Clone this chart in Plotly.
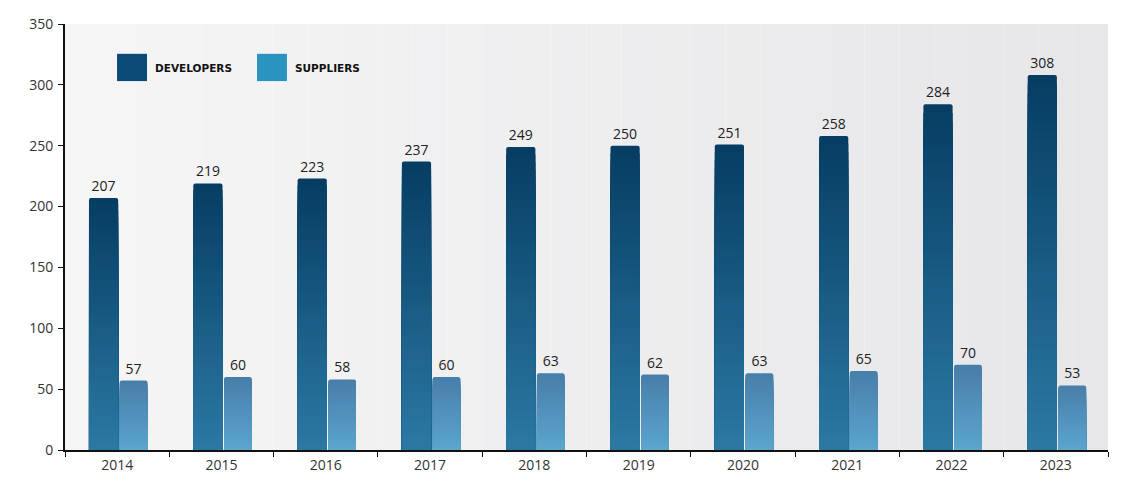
import plotly.graph_objects as go

years = ["2014", "2015", "2016", "2017", "2018", "2019", "2020", "2021", "2022", "2023"]
developers = [207, 219, 223, 237, 249, 250, 251, 258, 284, 308]
suppliers = [57, 60, 58, 60, 63, 62, 63, 65, 70, 53]

y_ticks = [0, 50, 100, 150, 200, 250, 300, 350]

DEV_TOP, DEV_BOTTOM = (6, 61, 99), (44, 122, 165)
SUP_TOP, SUP_BOTTOM = (72, 126, 170), (92, 166, 206)
LEG_DEV, LEG_SUP = "#0b4a75", "#2a93c0"


def mix(c1, c2, t):
    return "rgb(%d,%d,%d)" % tuple(round(a + (b - a) * t) for a, b in zip(c1, c2))


N = 40
fig = go.Figure()


def add_gradient_bars(values, top, bottom, offset, width, name):
    for k in range(N):
        f = 1 - k / N
        first = k == 0
        fig.add_trace(go.Bar(
            x=years,
            y=[v * f for v in values],
            offset=offset,
            width=width,
            name=name,
            showlegend=False,
            hoverinfo="skip" if not first else None,
            marker=dict(
                color=mix(bottom, top, f),
                line=dict(width=0),
                cornerradius=2 if first else 0,
            ),
            text=[str(v) for v in values] if first else None,
            textposition="outside" if first else "none",
            textfont=dict(family="Open Sans", size=14, color="#222"),
            cliponaxis=False,
        ))


add_gradient_bars(developers, DEV_TOP, DEV_BOTTOM, -0.27, 0.28, "DEVELOPERS")
add_gradient_bars(suppliers, SUP_TOP, SUP_BOTTOM, 0.025, 0.265, "SUPPLIERS")

# background horizontal gradient
shapes = []
M = 30
for i in range(M):
    t = i / (M - 1)
    shapes.append(dict(
        type="rect", xref="paper", yref="paper",
        x0=i / M, x1=(i + 1) / M, y0=0, y1=1,
        fillcolor=mix((245, 245, 246), (231, 231, 233), t),
        line=dict(width=0), layer="below",
    ))

# legend swatches
shapes.append(dict(type="rect", xref="paper", yref="paper",
                   x0=0.0499, x1=0.0786, y0=0.866, y1=0.930,
                   fillcolor=LEG_DEV, line=dict(width=0)))
shapes.append(dict(type="rect", xref="paper", yref="paper",
                   x0=0.1841, x1=0.2128, y0=0.866, y1=0.930,
                   fillcolor=LEG_SUP, line=dict(width=0)))

annotations = [
    dict(text="<b>DEVELOPERS</b>", xref="paper", yref="paper", x=0.0844, y=0.8975,
         xanchor="left", yanchor="middle", showarrow=False,
         font=dict(family="DejaVu Sans", size=10.5, color="#111")),
    dict(text="<b>SUPPLIERS</b>", xref="paper", yref="paper", x=0.2186, y=0.8975,
         xanchor="left", yanchor="middle", showarrow=False,
         font=dict(family="DejaVu Sans", size=10.5, color="#111")),
]

fig.update_layout(
    width=1114, height=466,
    margin=dict(l=57, r=14, t=16, b=24, autoexpand=False),
    paper_bgcolor="white",
    plot_bgcolor="rgba(0,0,0,0)",
    barmode="overlay",
    showlegend=False,
    shapes=shapes,
    annotations=annotations,
    font=dict(family="Open Sans", size=14, color="#333"),
)
fig.update_xaxes(
    type="category", tickson="boundaries", ticks="outside", ticklen=5,
    tickcolor="#111", showline=True, linecolor="#111", linewidth=2,
    showgrid=False, automargin=False, ticklabelstandoff=1,
    tickfont=dict(size=14, color="#333"),
)
fig.update_yaxes(
    range=[0, 350], tickvals=y_ticks, ticks="outside", ticklen=5,
    tickcolor="#111", showline=True, linecolor="#111", linewidth=2,
    showgrid=False, zeroline=False, automargin=False, ticklabelstandoff=2,
    tickfont=dict(size=14, color="#333"),
)

fig.write_html("out.html")
